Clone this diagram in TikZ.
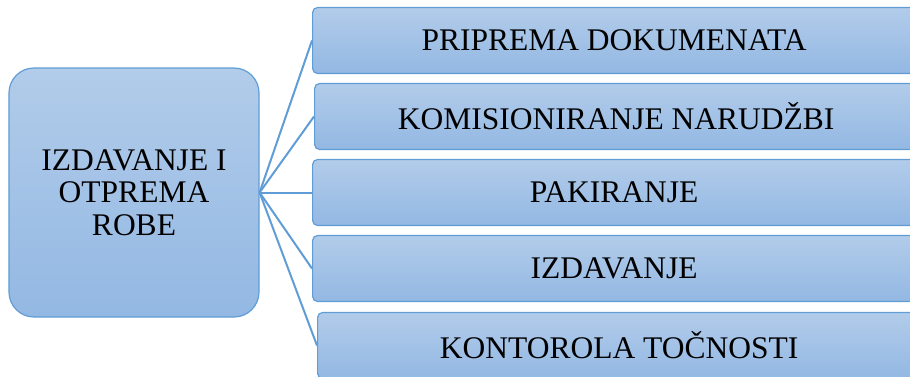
\documentclass[tikz,border=0pt]{standalone}
\usepackage{fontspec}
\setmainfont{Liberation Serif}
\usepackage{tikz}

\definecolor{boxtop}{RGB}{178,204,234}
\definecolor{boxbottom}{RGB}{147,184,227}
\definecolor{boxline}{RGB}{96,157,214}

\tikzset{
  boxbase/.style={draw=boxline, line width=1.2bp, top color=boxtop, bottom color=boxbottom,
    font=\fontsize{31.5bp}{32.5bp}\selectfont, align=center, inner sep=0pt},
  mainbox/.style={boxbase, rounded corners=25bp, minimum width=250bp, minimum height=249bp},
  taskbox/.style={boxbase, rounded corners=5bp, minimum width=603bp, minimum height=66bp, anchor=west},
  link/.style={draw=boxline, line width=2bp}
}

\begin{document}
\begin{tikzpicture}[x=1bp,y=-1bp]
        \useasboundingbox (0,0) rectangle (910,376);
        \clip (0,0) rectangle (910,376);
        % Nodes
        \node[mainbox] (robe) at (134,192.5) {IZDAVANJE I\\OTPREMA\\ROBE};
        \node[taskbox] (dok) at (312,40.5) {PRIPREMA DOKUMENATA};
        \node[taskbox] (kom) at (314,116.5) {KOMISIONIRANJE NARUDŽBI};
        \node[taskbox] (pak) at (312,192.5) {PAKIRANJE};
        \node[taskbox] (izd) at (312,268.5) {IZDAVANJE};
        \node[taskbox] (kon) at (317,345.5) {KONTOROLA TOČNOSTI};

        % Edges
        \foreach \t in {dok,kom,pak,izd,kon}
          \draw[link] (robe.east) -- (\t.west);
    \end{tikzpicture}
\end{document}
